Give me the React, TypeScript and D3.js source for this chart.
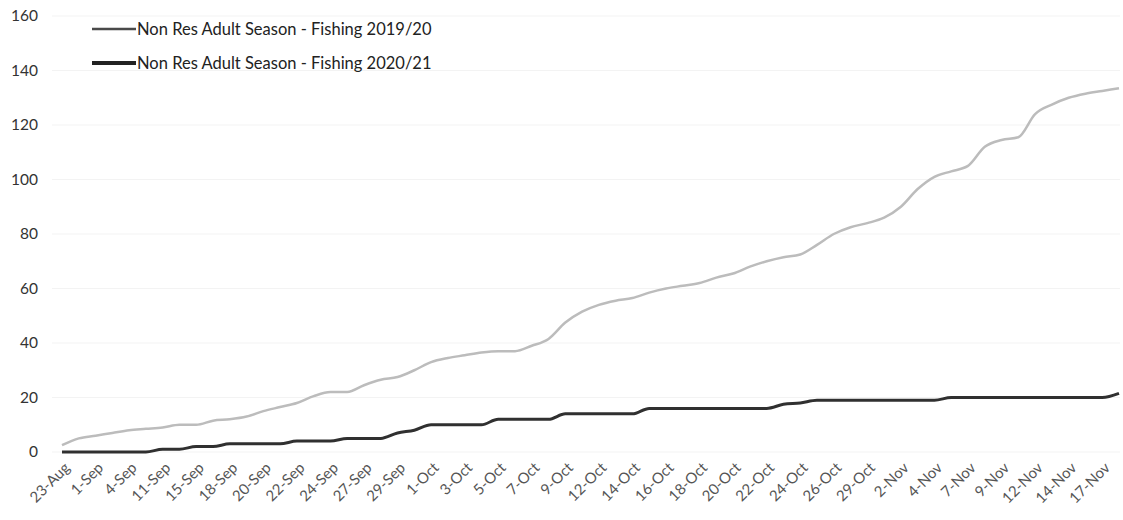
import React, { useEffect, useRef } from 'react'
import * as d3 from 'd3'

// category dates (only every second one is labelled on the axis)
const dates = [
  '23-Aug', '26-Aug', '1-Sep', '3-Sep', '4-Sep', '8-Sep', '11-Sep', '14-Sep',
  '15-Sep', '17-Sep', '18-Sep', '19-Sep', '20-Sep', '21-Sep', '22-Sep', '23-Sep',
  '24-Sep', '25-Sep', '27-Sep', '28-Sep', '29-Sep', '30-Sep', '1-Oct', '2-Oct',
  '3-Oct', '4-Oct', '5-Oct', '6-Oct', '7-Oct', '8-Oct', '9-Oct', '10-Oct',
  '12-Oct', '13-Oct', '14-Oct', '15-Oct', '16-Oct', '17-Oct', '18-Oct', '19-Oct',
  '20-Oct', '21-Oct', '22-Oct', '23-Oct', '24-Oct', '25-Oct', '26-Oct', '28-Oct',
  '29-Oct', '30-Oct', '2-Nov', '3-Nov', '4-Nov', '5-Nov', '7-Nov', '8-Nov',
  '9-Nov', '10-Nov', '12-Nov', '13-Nov', '14-Nov', '16-Nov', '17-Nov', '18-Nov',
]

const season1920 = [
  2.5, 5, 6, 7, 8, 8.5, 9, 10, 10, 11.5, 12, 13, 15, 16.5, 18, 20.5,
  22, 22, 24.5, 26.5, 27.5, 30, 33, 34.5, 35.5, 36.5, 37, 37, 39, 41.5, 47.5, 51.5,
  54, 55.5, 56.5, 58.5, 60, 61, 62, 64, 65.5, 68, 70, 71.5, 72.5, 76, 80, 82.5,
  84, 86, 90, 96.5, 101, 103, 105, 112, 114.5, 115.5, 124, 127.5, 130, 131.5, 132.5, 133.5,
]

const season2021 = [
  0, 0, 0, 0, 0, 0, 1, 1, 2, 2, 3, 3, 3, 3, 4, 4,
  4, 5, 5, 5, 7, 8, 10, 10, 10, 10, 12, 12, 12, 12, 14, 14,
  14, 14, 14, 16, 16, 16, 16, 16, 16, 16, 16, 17.5, 18, 19, 19, 19,
  19, 19, 19, 19, 19, 20, 20, 20, 20, 20, 20, 20, 20, 20, 20, 21.5,
]

const yTicks = [0, 20, 40, 60, 80, 100, 120, 140, 160]

const seriesNames = [
  'Non Res Adult Season - Fishing 2019/20',
  'Non Res Adult Season - Fishing 2020/21',
]

const W = 1123
const H = 520
const FONT = 'Lato, "Open Sans", sans-serif'

const FishingChart = () => {
  const ref = useRef<SVGSVGElement>(null)

  useEffect(() => {
    document.body.style.margin = '0'
    const svg = d3.select(ref.current)
    svg.selectAll('*').remove()

    const x = d3.scalePoint<string>().domain(dates).range([62, 1119])
    const y = d3.scaleLinear().domain([0, 160]).range([452, 16])

    // faint gridlines
    svg
      .append('g')
      .selectAll('line')
      .data(yTicks)
      .join('line')
      .attr('x1', 52)
      .attr('x2', 1120)
      .attr('y1', (d) => y(d))
      .attr('y2', (d) => y(d))
      .attr('stroke', '#f3f3f3')
      .attr('stroke-width', 1)

    // y labels
    svg
      .append('g')
      .selectAll('text')
      .data(yTicks)
      .join('text')
      .attr('x', 38)
      .attr('y', (d) => y(d))
      .attr('dy', '0.35em')
      .attr('text-anchor', 'end')
      .attr('font-family', FONT)
      .attr('font-size', 15.5)
      .attr('fill', '#333')
      .text((d) => d)

    // x labels, every second category
    const shown = dates.filter((_, i) => i % 2 === 0)
    svg
      .append('g')
      .selectAll('text')
      .data(shown)
      .join('text')
      .attr('transform', (d) => `translate(${(x(d) as number) + 5},${465}) rotate(-45)`)
      .attr('text-anchor', 'end')
      .attr('dy', '0.35em')
      .attr('font-family', FONT)
      .attr('font-size', 15)
      .attr('fill', '#555')
      .text((d) => d)

    const line = d3
      .line<number>()
      .x((_, i) => x(dates[i]) as number)
      .y((d) => y(d))
      .curve(d3.curveMonotoneX)

    svg
      .append('path')
      .datum(season1920)
      .attr('fill', 'none')
      .attr('stroke', '#bcbcbc')
      .attr('stroke-width', 2.5)
      .attr('stroke-linejoin', 'round')
      .attr('d', line)

    svg
      .append('path')
      .datum(season2021)
      .attr('fill', 'none')
      .attr('stroke', '#303030')
      .attr('stroke-width', 3)
      .attr('stroke-linejoin', 'round')
      .attr('d', line)

    // legend
    const legend = svg
      .append('g')
      .selectAll('g')
      .data(seriesNames)
      .join('g')
      .attr('transform', (_, i) => `translate(92,${29 + i * 34})`)
    legend
      .append('line')
      .attr('x1', 0)
      .attr('x2', 44)
      .attr('stroke', (_, i) => (i === 0 ? '#4a4a4a' : '#222'))
      .attr('stroke-width', (_, i) => (i === 0 ? 2.5 : 4))
    legend
      .append('text')
      .attr('x', 45)
      .attr('dy', '0.35em')
      .attr('font-family', FONT)
      .attr('font-size', 16.5)
      .attr('fill', '#222')
      .text((d) => d)
  }, [])

  return <svg ref={ref} width={W} height={H} style={{ display: 'block', background: '#fff' }} />
}

export default function App() {
  return <FishingChart />
}
